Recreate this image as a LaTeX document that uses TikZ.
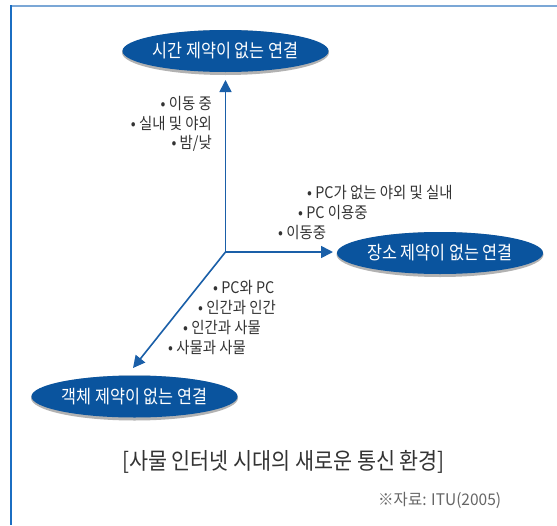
\documentclass[tikz,border=0pt]{standalone}
\usepackage{fontspec}
\setmainfont{Noto Sans CJK KR}[FakeStretch=0.9]
\newfontfamily\krGoal{Noto Sans CJK KR}[FakeStretch=0.88]
\newfontfamily\krSrc{Noto Sans CJK KR}[FakeStretch=0.97]
\usetikzlibrary{arrows.meta,shapes.geometric}
\definecolor{ellblue}{HTML}{0A549E}
\definecolor{arrblue}{HTML}{1A5FA8}
\definecolor{frametop}{HTML}{7BA7D6}
\definecolor{frameleft}{HTML}{1B6EC2}
\definecolor{txt}{HTML}{333333}
\definecolor{srcgray}{HTML}{666666}
\tikzset{
  goal/.style={ellipse, fill=ellblue, text=white, minimum width=203pt, minimum height=42pt, inner sep=0pt, font=\krGoal\fontsize{18.5}{20}\selectfont},
  goalshadow/.style={ellipse, fill=black!30, minimum width=207pt, minimum height=45pt, inner sep=0pt},
  arr/.style={draw=arrblue, line width=1.6pt, -{Triangle[width=12pt,length=12pt]}},
  item/.style={text=txt, inner sep=0pt, font=\fontsize{16}{18}\selectfont},
}
\begin{document}
\begin{tikzpicture}[x=1pt,y=-1pt]
\useasboundingbox (0,0) rectangle (557,525);
\fill[white] (0,0) rectangle (557,525);
% frame
\draw[frametop, line width=2pt] (10,5.5) -- (557,5.5);
\draw[frameleft, line width=2pt] (10.5,5) -- (10.5,525);
% shadows
\node[goalshadow] at (225.5,52.5) {};
\node[goalshadow] at (440,254.5) {};
\node[goalshadow] at (134.5,398) {};
% goals
\node[goal] (time) at (225.5,51) {시간 제약이 없는 연결};
\node[goal] (place) at (440,253) {장소 제약이 없는 연결};
\node[goal] (object) at (134.5,396.5) {객체 제약이 없는 연결};
% axes
\coordinate (O) at (225.5,252);
\coordinate (tT) at (225.5,80);
\coordinate (tP) at (333,252);
\coordinate (tO) at (133,368);
\draw[arr] (O) -- (tT);
\draw[arr] (O) -- (tP);
\draw[arr] (O) -- (tO);
% time list
\node[item, anchor=east] (t1) at (212,104) {• 이동 중};
\node[item, anchor=east] (t2) at (212,124) {• 실내 및 야외};
\node[item, anchor=east] (t3) at (212,143) {• 밤/낮};
% place list
\node[item, anchor=west] (p1) at (307,193) {• PC가 없는 야외 및 실내};
\node[item, anchor=west] (p2) at (298,213) {• PC 이용중};
\node[item, anchor=west] (p3) at (278,233) {• 이동중};
% object list
\node[item, anchor=west] (o1) at (213,288) {• PC와 PC};
\node[item, anchor=west] (o2) at (198,308) {• 인간과 인간};
\node[item, anchor=west] (o3) at (183,328) {• 인간과 사물};
\node[item, anchor=west] (o4) at (168,348) {• 사물과 사물};
% caption
\node[text=txt, inner sep=0pt, font=\fontsize{23}{25}\selectfont] (cap) at (283.5,462) {[사물 인터넷 시대의 새로운 통신 환경]};
\node[text=srcgray, inner sep=0pt, anchor=west, font=\krSrc\fontsize{16}{18}\selectfont] (src) at (378,500) {※자료: ITU(2005)};
\end{tikzpicture}
\end{document}
